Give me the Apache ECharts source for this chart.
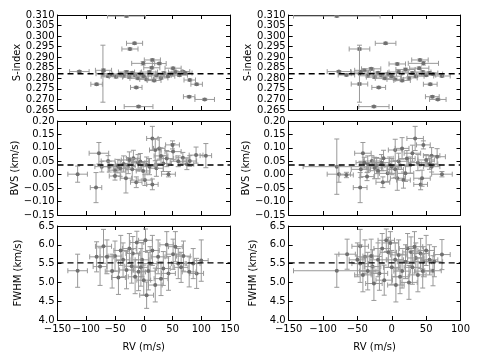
<!DOCTYPE html>
<html><head><meta charset="utf-8">
<script src="https://cdn.jsdelivr.net/npm/echarts@6/dist/echarts.min.js"></script>
<style>html,body{margin:0;padding:0;background:#fff}#c{width:480px;height:360px}</style>
</head><body><div id="c"></div>
<script>
// Each row: [RV, RV error, value, value error]
const sLeft = [
 [-30,33,0.3095,0.0005],[-16,14,0.2966,0.0005],[-24,14,0.2939,0.0005],[15,14,0.2887,0.0005],
 [-1,20,0.2871,0.0008],[27,12,0.2870,0.0005],[-112,17,0.2832,0.0005],[-82,10,0.2772,0.0005],
 [-71,12,0.2822,0.0135],[-13,10,0.2757,0.0005],[-9,25,0.2666,0.0005],[80,10,0.2792,0.0005],
 [92,10,0.2772,0.0005],[79,10,0.2713,0.0005],[106,17,0.2700,0.0005],[68,12,0.2832,0.0005],
 [51,14,0.2848,0.0005],[14,14,0.2850,0.0005],[-70,14,0.2838,0.0006],[-62,12,0.2810,0.0006],
 [-55,14,0.2815,0.0006],[-48,12,0.2808,0.0006],[-40,14,0.2820,0.0006],[-35,12,0.2812,0.0006],
 [-30,14,0.2830,0.0006],[-25,12,0.2806,0.0006],[-20,14,0.2826,0.0006],[-15,12,0.2815,0.0006],
 [-10,14,0.2800,0.0006],[-5,12,0.2822,0.0006],[0,14,0.2810,0.0006],[5,12,0.2795,0.0006],
 [10,14,0.2830,0.0006],[18,12,0.2790,0.0006],[22,14,0.2815,0.0006],[30,12,0.2802,0.0006],
 [35,14,0.2825,0.0006],[42,12,0.2810,0.0006],[48,14,0.2820,0.0006],[55,12,0.2830,0.0006],
 [62,14,0.2815,0.0006],[72,12,0.2825,0.0006]
];
const sRight = [
 [-80,63,0.3095,0.0005],[-9,15,0.2966,0.0005],[-47,15,0.2939,0.0005],[41,12,0.2887,0.0005],
 [46,22,0.2871,0.0008],[8,12,0.2868,0.0005],[-77,17,0.2832,0.0005],[-47,12,0.2773,0.0005],
 [-47,12,0.2822,0.0135],[-19,10,0.2757,0.0005],[-26,22,0.2666,0.0005],[56,10,0.2772,0.0005],
 [59,10,0.2713,0.0005],[67,12,0.2700,0.0005],[73,12,0.2811,0.0005],[-66,12,0.2816,0.0005],
 [-40,14,0.2838,0.0006],[-35,12,0.2812,0.0006],[-30,14,0.2845,0.0006],[-25,12,0.2806,0.0006],
 [-20,14,0.2826,0.0006],[-15,12,0.2815,0.0006],[-10,14,0.2800,0.0006],[-5,12,0.2822,0.0006],
 [0,14,0.2810,0.0006],[5,12,0.2795,0.0006],[10,14,0.2830,0.0006],[15,12,0.2790,0.0006],
 [20,14,0.2842,0.0006],[25,12,0.2802,0.0006],[30,14,0.2825,0.0006],[35,12,0.2810,0.0006],
 [40,14,0.2848,0.0006],[45,12,0.2830,0.0006],[50,14,0.2815,0.0006],[55,12,0.2825,0.0006],
 [60,14,0.2820,0.0006],[-45,14,0.2830,0.0006]
];
const bvsLeft = [
 [-115,17,0.002,0.030],[-83,10,-0.048,0.056],[-78,17,0.080,0.040],[-62,12,0.051,0.020],
 [-73,12,0.030,0.020],[-50,12,0.017,0.020],[-50,10,-0.005,0.015],[-31,10,-0.013,0.055],
 [-27,12,0.034,0.030],[-18,12,0.061,0.030],[-13,10,-0.028,0.020],[2,12,-0.020,0.020],
 [15,10,0.135,0.045],[15,10,-0.036,0.020],[20,10,0.092,0.040],[27,10,0.098,0.040],
 [34,14,0.042,0.030],[43,12,0.002,0.010],[51,14,0.086,0.030],[50,12,0.111,0.015],
 [68,12,0.063,0.020],[75,12,0.039,0.020],[80,12,0.051,0.020],[91,12,0.073,0.030],
 [108,10,0.071,0.045],[5,14,0.036,0.030],[-6,14,0.049,0.030],[-41,12,0.024,0.030],
 [-1,12,0.014,0.030],[22,12,0.024,0.030],[-60,14,0.030,0.020],[-35,14,0.040,0.030],
 [-20,12,0.020,0.040],[-10,12,0.045,0.030],[10,14,0.030,0.030],[40,12,0.060,0.030],
 [60,14,0.050,0.020],[-45,12,0.032,0.025],[-25,14,0.055,0.030],[30,12,0.070,0.030]
];
const bvsRight = [
 [-80,49,0.030,0.103],[-77,17,0.002,0.030],[-66,10,-0.001,0.010],[-46,10,-0.048,0.056],
 [-42,12,0.080,0.040],[-36,10,-0.007,0.015],[-29,12,0.051,0.020],[-13,10,-0.028,0.020],
 [-22,12,0.034,0.030],[-6,12,0.005,0.030],[5,10,0.092,0.040],[15,10,0.098,0.040],
 [8,10,-0.013,0.045],[17,10,-0.020,0.030],[34,12,0.135,0.045],[27,14,0.036,0.030],
 [42,10,-0.036,0.020],[46,10,0.111,0.015],[44,12,-0.013,0.030],[58,12,0.030,0.020],
 [58,12,0.071,0.030],[73,15,0.002,0.010],[66,12,0.067,0.030],[-3,14,0.036,0.030],
 [-12,14,0.061,0.030],[-45,14,0.020,0.030],[-35,12,0.040,0.030],[-25,12,0.025,0.040],
 [-15,12,0.045,0.030],[0,14,0.030,0.030],[10,14,0.050,0.030],[22,12,0.060,0.030],
 [30,12,0.080,0.030],[38,14,0.045,0.030],[50,12,0.055,0.020],[55,12,0.040,0.020],
 [-40,12,0.045,0.020],[-20,14,0.015,0.030],[5,12,0.020,0.030],[20,12,0.005,0.030]
];
const fwhmLeft = [
 [-115,17,5.31,0.44],[-70,14,5.96,0.45],[-82,12,5.68,0.40],[-50,12,5.70,0.40],
 [-19,12,5.77,0.45],[-12,12,6.06,0.30],[3,12,6.12,0.30],[40,12,6.00,0.35],
 [51,12,5.75,0.40],[69,12,5.70,0.40],[92,12,5.24,0.40],[100,12,5.58,0.55],
 [0,12,5.06,0.40],[20,12,4.93,0.45],[5,12,4.66,0.35],[-44,12,5.13,0.45],
 [-21,12,5.43,0.45],[-3,12,5.60,0.45],[34,12,5.37,0.45],[79,12,5.28,0.40],
 [86,12,5.50,0.40],[60,12,5.50,0.40],[-76,12,5.42,0.50],[-64,12,5.68,0.45],
 [-36,12,5.60,0.45],[-30,12,5.33,0.50],[-9,12,5.28,0.50],[11,12,5.50,0.45],
 [25,12,5.68,0.45],[43,12,5.24,0.45],[-55,12,5.30,0.45],[-25,12,5.90,0.40],
 [-15,12,5.15,0.45],[15,12,5.85,0.40],[55,12,5.95,0.40],[30,12,5.10,0.45],
 [-5,12,5.40,0.50],[65,12,5.40,0.40],[-40,12,5.85,0.40],[8,12,5.30,0.50]
];
const fwhmRight = [
 [-80,63,5.31,0.44],[-65,12,5.75,0.40],[-46,12,5.96,0.45],[-46,12,5.50,0.50],
 [-39,12,5.68,0.45],[-28,12,5.42,0.45],[-8,12,6.12,0.30],[-11,12,5.06,0.40],
 [6,12,4.93,0.45],[10,12,5.73,0.40],[23,12,5.90,0.40],[28,12,5.81,0.40],
 [42,12,5.77,0.40],[46,12,5.55,0.40],[60,12,5.31,0.40],[73,12,5.74,0.40],
 [-18,12,5.24,0.45],[-26,12,4.97,0.45],[-35,12,5.30,0.50],[-20,12,5.60,0.45],
 [-5,12,5.80,0.40],[0,12,5.40,0.45],[5,12,5.60,0.45],[15,12,5.30,0.45],
 [20,12,5.55,0.45],[30,12,5.40,0.45],[35,12,5.65,0.40],[38,12,5.20,0.45],
 [50,12,5.85,0.40],[55,12,5.60,0.40],[-14,12,5.90,0.40],[-30,12,5.70,0.45],
 [-2,12,6.05,0.30],[12,12,5.15,0.45],[25,12,5.00,0.45],[45,12,5.30,0.45],
 [-42,12,5.20,0.45],[33,12,5.95,0.40],[62,12,5.55,0.40],[-50,12,5.60,0.45]
];
const meanS = 0.2822, meanBVS = 0.0362, meanFWHM = 5.52;
const xTicksLeft = {min:-150, max:150, interval:50};
const xTicksRight = {min:-150, max:100, interval:50};
const yTicks = [
 {min:0.265, max:0.310, interval:0.005, dec:3, name:'S-index'},
 {min:-0.15, max:0.20, interval:0.05, dec:2, name:'BVS (km/s)'},
 {min:4.0, max:6.5, interval:0.5, dec:1, name:'FWHM (km/s)'}
];
const panelData = [[sLeft, sRight],[bvsLeft, bvsRight],[fwhmLeft, fwhmRight]];
const means = [meanS, meanBVS, meanFWHM];

const FONT = 'DejaVu Sans';
const FS = 10;
const minus = s => String(s).replace('-', '\u2212');
const cols = [{left:57.5, width:172.5, x:xTicksLeft, gap:34},{left:288.7, width:171.8, x:xTicksRight, gap:30}];
const rows = [{top:15, height:95},{top:121, height:94},{top:226, height:94}];

const grid = [], xAxis = [], yAxis = [], series = [];
function renderItem(params, api){
  const x = api.value(0), xe = api.value(1), y = api.value(2), ye = api.value(3);
  const c = api.coord([x, y]);
  const l = api.coord([x - xe, y]), r = api.coord([x + xe, y]);
  const t = api.coord([x, y + ye]), b = api.coord([x, y - ye]);
  const cap = 2.5;
  const st = {stroke:'#999999', lineWidth:1};
  const ln = (x1,y1,x2,y2) => ({type:'line', shape:{x1,y1,x2,y2}, style:st});
  const cs = params.coordSys;
  return {type:'group', clipPath:{type:'rect', shape:{x:cs.x, y:cs.y, width:cs.width, height:cs.height}},
    children:[
      ln(l[0],l[1],r[0],r[1]), ln(t[0],t[1],b[0],b[1]),
      ln(l[0],l[1]-cap,l[0],l[1]+cap), ln(r[0],r[1]-cap,r[0],r[1]+cap),
      ln(t[0]-cap,t[1],t[0]+cap,t[1]), ln(b[0]-cap,b[1],b[0]+cap,b[1]),
      {type:'circle', shape:{cx:c[0], cy:c[1], r:2}, style:{fill:'#707070'}}
    ]};
}
let gi = 0;
rows.forEach((row, ri) => {
  cols.forEach((col, ci) => {
    grid.push({left:col.left, top:row.top, width:col.width, height:row.height});
    const yt = yTicks[ri];
    const common = {axisLine:{show:true, onZero:false, lineStyle:{color:'#000', width:1}},
      axisTick:{show:true, inside:true, length:4, lineStyle:{color:'#000'}}, splitLine:{show:false}};
    const bottomRow = ri === 2;
    xAxis.push(Object.assign({type:'value', gridIndex:gi, position:'bottom', min:col.x.min, max:col.x.max, interval:col.x.interval,
      axisLabel:{show:bottomRow, fontFamily:FONT, fontSize:FS, color:'#000', margin:4, showMinLabel:true, showMaxLabel:true, hideOverlap:false, formatter:v=>minus(v)},
      name: bottomRow ? 'RV (m/s)' : '', nameLocation:'middle', nameGap:22, nameTextStyle:{fontFamily:FONT, fontSize:FS, color:'#000'}}, common));
    xAxis.push(Object.assign({type:'value', gridIndex:gi, position:'top', min:col.x.min, max:col.x.max, interval:col.x.interval,
      axisLabel:{show:false}}, common));
    yAxis.push(Object.assign({type:'value', gridIndex:gi, position:'left', min:yt.min, max:yt.max, interval:yt.interval,
      axisLabel:{fontFamily:FONT, fontSize:FS, color:'#000', margin:3, showMinLabel:true, showMaxLabel:true, hideOverlap:false, formatter:v=>minus(v.toFixed(yt.dec))},
      name:yt.name, nameLocation:'middle', nameGap: col.gap, nameTextStyle:{fontFamily:FONT, fontSize:FS, color:'#000'}}, common));
    yAxis.push(Object.assign({type:'value', gridIndex:gi, position:'right', min:yt.min, max:yt.max, interval:yt.interval,
      axisLabel:{show:false}}, common));
    series.push({type:'custom', xAxisIndex:gi*2, yAxisIndex:gi*2, renderItem, clip:true,
      encode:{x:0, y:2}, data: panelData[ri][ci], silent:true, animation:false, z:2});
    series.push({type:'line', xAxisIndex:gi*2, yAxisIndex:gi*2, symbol:'none', silent:true, animation:false, z:3,
      lineStyle:{color:'#000', width:1.4, type:[6,4]}, data:[[col.x.min, means[ri]],[col.x.max, means[ri]]]});
    gi++;
  });
});
const chart = echarts.init(document.getElementById('c'), null, {renderer:'canvas'});
chart.setOption({animation:false, grid, xAxis, yAxis, series});
</script></body></html>
